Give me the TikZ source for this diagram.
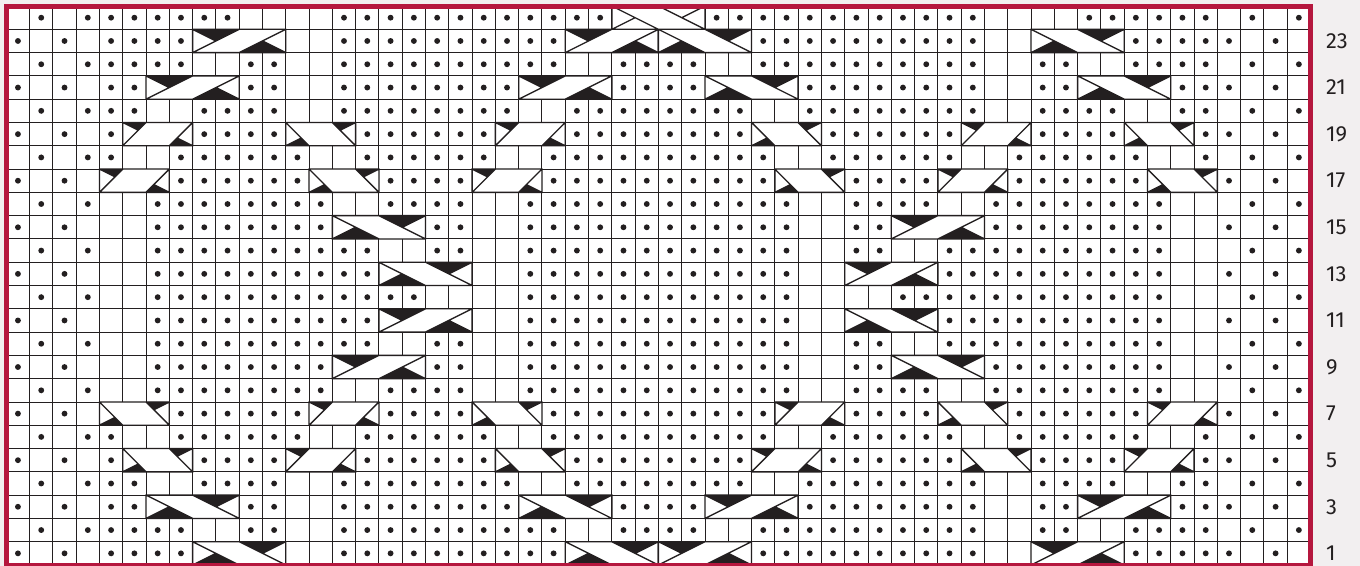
\documentclass[tikz,border=0pt]{standalone}
\usepackage{fontspec}
\setmainfont{Fira Sans}
\definecolor{ink}{HTML}{231F20}
\definecolor{frame}{HTML}{B5173E}
\definecolor{page}{HTML}{F2EFF0}
\tikzset{
  gridline/.style={draw=ink,line width=0.7pt},
  cableline/.style={draw=ink,line width=1pt,line join=miter},
  knitdot/.style={fill=ink},
  rowlabel/.style={anchor=west,inner sep=0pt,text=ink,font=\fontsize{16.4pt}{18pt}\selectfont},
  border/.style={draw=frame,line width=3.7pt,line join=miter},
}
\newcommand\crossfour[1]{%
  \fill[white] (0,0) rectangle (4,1);
  \fill[#1] (0,1)--(2,1)--(1,.5)--cycle (2,0)--(4,0)--(3,.5)--cycle;
  \draw[cableline] (0,0) rectangle (4,1) (0,0)--(2,1) (2,0)--(4,1) (0,1)--(1,.5) (3,.5)--(4,0);
}
\newcommand\crossthree{%
  \fill[white] (0,0) rectangle (3,1);
  \fill[ink] (0,1)--(1,1)--(2/3,2/3)--cycle (2,0)--(3,0)--(7/3,1/3)--cycle;
  \draw[cableline] (0,0) rectangle (3,1) (0,0)--(1,1) (2,0)--(3,1) (0,1)--(2/3,2/3) (7/3,1/3)--(3,0);
}
\newcommand\fourR[2]{\begin{scope}[shift={(#1,#2-1)}]\crossfour{ink}\end{scope}}
\newcommand\fourL[2]{\begin{scope}[shift={(#1+4,#2-1)},xscale=-1]\crossfour{ink}\end{scope}}
\newcommand\threeR[2]{\begin{scope}[shift={(#1,#2-1)}]\crossthree\end{scope}}
\newcommand\threeL[2]{\begin{scope}[shift={(#1+3,#2-1)},xscale=-1]\crossthree\end{scope}}
\begin{document}
\begin{tikzpicture}[x=17.4675pt,y=17.4675pt]
\useasboundingbox (-0.2705,-0.0429) rectangle (58.1246,24.2598);
\fill[page] (-0.2705,-0.0429) rectangle (58.1246,24.2598);
\fill[white] (0,0) rectangle (56,24);
% grid
\foreach \c in {1,...,55} \draw[gridline] (\c,0) -- (\c,24);
\foreach \r in {1,...,23} \draw[gridline] (0,\r) -- (56,\r);
% moss edges
\foreach \r in {2,4,...,24} \foreach \c in {1,3,53,55}
  \fill[knitdot] (\c+.5,\r-.5) circle [radius=2.2pt];
\foreach \r in {1,3,...,23} \foreach \c in {0,2,52,54}
  \fill[knitdot] (\c+.5,\r-.5) circle [radius=2.2pt];
% purl dots of the left half as column ranges, mirrored to the right
\foreach \r/\cs in {
  24/{4/9,14/25},
  23/{4/7,14/23},
  22/{4/7,10/11,14/23,26/27},
  21/{4/5,10/11,14/21,26/27},
  20/{4/5,8/11,14/21,24/27},
  19/{4/4,8/11,15/20,24/27},
  18/{4/4,7/12,15/20,23/27},
  17/{7/12,16/19,23/27},
  16/{6/13,16/19,22/27},
  15/{6/13,18/19,22/27},
  14/{6/15,18/19,22/27},
  13/{6/15,22/27},
  12/{6/17,22/27},
  11/{6/15,22/27},
  10/{6/15,18/19,22/27},
  9/{6/13,18/19,22/27},
  8/{6/13,16/19,22/27},
  7/{7/12,16/19,23/27},
  6/{4/4,7/12,15/20,23/27},
  5/{4/4,8/11,15/20,24/27},
  4/{4/5,8/11,14/21,24/27},
  3/{4/5,10/11,14/21,26/27},
  2/{4/7,10/11,14/23,26/27},
  1/{4/7,14/23}}{
  \foreach \a/\b in \cs {
    \foreach \c in {\a,...,\b} {
      \fill[knitdot] (\c+.5,\r-.5) circle [radius=2.2pt];
      \fill[knitdot] (55-\c+.5,\r-.5) circle [radius=2.2pt];
    }
  }
}
% four-stitch crossings
\foreach \c/\r in {8/23,24/23,6/21,22/21,16/11,14/9} {
  \fourR{\c}{\r}
  \pgfmathtruncatemacro\m{52-\c}
  \fourL{\m}{\r}
}
\foreach \c/\r in {14/15,16/13,6/3,22/3,8/1,24/1} {
  \fourL{\c}{\r}
  \pgfmathtruncatemacro\m{52-\c}
  \fourR{\m}{\r}
}
% three-stitch crossings
\foreach \c/\r in {5/19,21/19,4/17,20/17,13/7,12/5} {
  \threeR{\c}{\r}
  \pgfmathtruncatemacro\m{53-\c}
  \threeL{\m}{\r}
}
\foreach \c/\r in {12/19,13/17,4/7,20/7,5/5,21/5} {
  \threeL{\c}{\r}
  \pgfmathtruncatemacro\m{53-\c}
  \threeR{\m}{\r}
}
% top centre crossing, without black triangles
\begin{scope}[shift={(30,23)},xscale=-1]\crossfour{white}\end{scope}
% frame
\draw[border] (0,0) rectangle (56,24);
% row numbers
\foreach \r in {1,3,...,23}
  \node[rowlabel] (row\r) at (56.66,\r-.5) {\r};
\end{tikzpicture}
\end{document}
